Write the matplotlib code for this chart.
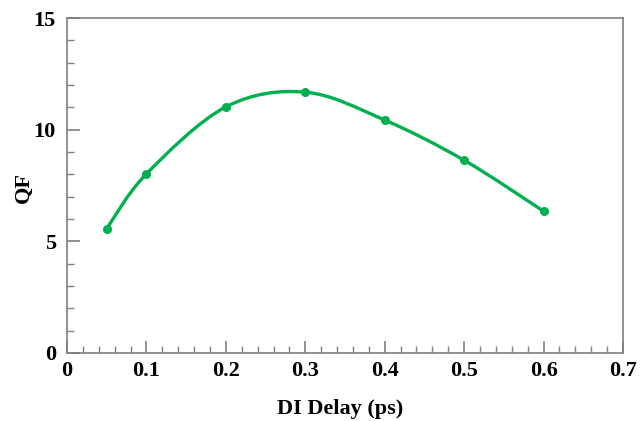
import numpy as np
import matplotlib
matplotlib.use("Agg")
import matplotlib.pyplot as plt
from matplotlib.path import Path
from matplotlib.patches import PathPatch
from matplotlib.ticker import MultipleLocator

delay = [0.05, 0.1, 0.2, 0.3, 0.4, 0.5, 0.6]
qf = [5.57, 8.02, 11.02, 11.68, 10.43, 8.63, 6.35]
xticks = [0, 0.1, 0.2, 0.3, 0.4, 0.5, 0.6, 0.7]
xticklabels = ["0", "0.1", "0.2", "0.3", "0.4", "0.5", "0.6", "0.7"]
yticks = [0, 5, 10, 15]
yticklabels = ["0", "5", "10", "15"]

green = "#00B050"
spine_c = "#7f7f7f"

plt.rcParams['font.family'] = ['Liberation Serif', 'DejaVu Serif']
plt.rcParams['font.weight'] = 'bold'

fig = plt.figure(figsize=(6.44, 4.21), dpi=100)
ax = fig.add_axes([67/644, 1 - 353/421, (623-67)/644, (353-18)/421])

# smooth curve (Catmull-Rom style cubic Bezier through data points)
pts = np.column_stack([delay, qf])
n = len(pts)
verts = [pts[0]]
codes = [Path.MOVETO]
for i in range(n - 1):
    p0 = pts[i - 1] if i > 0 else pts[i]
    p1 = pts[i]
    p2 = pts[i + 1]
    p3 = pts[i + 2] if i + 2 < n else pts[i + 1]
    c1 = p1 + (p2 - p0) / 6.0
    c2 = p2 - (p3 - p1) / 6.0
    verts += [c1, c2, p2]
    codes += [Path.CURVE4] * 3
ax.add_patch(PathPatch(Path(verts, codes), facecolor='none', edgecolor=green,
                       lw=2.4, capstyle='round', joinstyle='round', zorder=3))
ax.plot(delay, qf, 'o', color=green, ms=5.5, zorder=4)

ax.set_xlim(0, 0.7)
ax.set_ylim(0, 15)
ax.set_xticks(xticks)
ax.set_xticklabels(xticklabels)
ax.set_yticks(yticks)
ax.set_yticklabels(yticklabels)
ax.xaxis.set_minor_locator(MultipleLocator(0.02))
ax.yaxis.set_minor_locator(MultipleLocator(1))

for s in ax.spines.values():
    s.set_color(spine_c)
    s.set_linewidth(1.2)

ax.tick_params(axis='both', which='both', direction='in', color=spine_c,
               top=False, right=False, labelsize=16)
ax.tick_params(axis='both', which='major', length=9, width=1.2)
ax.tick_params(axis='both', which='minor', length=5, width=1.0)
ax.tick_params(axis='x', which='major', pad=6)
ax.tick_params(axis='y', which='major', pad=8)
for lab in ax.get_xticklabels() + ax.get_yticklabels():
    lab.set_fontweight('bold')

fig.text(340/644, 1 - 409/421, "DI Delay (ps)", fontsize=16, fontweight='bold',
         ha='center', va='center')
fig.text(24/644, 1 - 188/421, "QF", fontsize=16, fontweight='bold',
         ha='center', va='center', rotation=90)

fig.savefig("out.png", dpi=100)
